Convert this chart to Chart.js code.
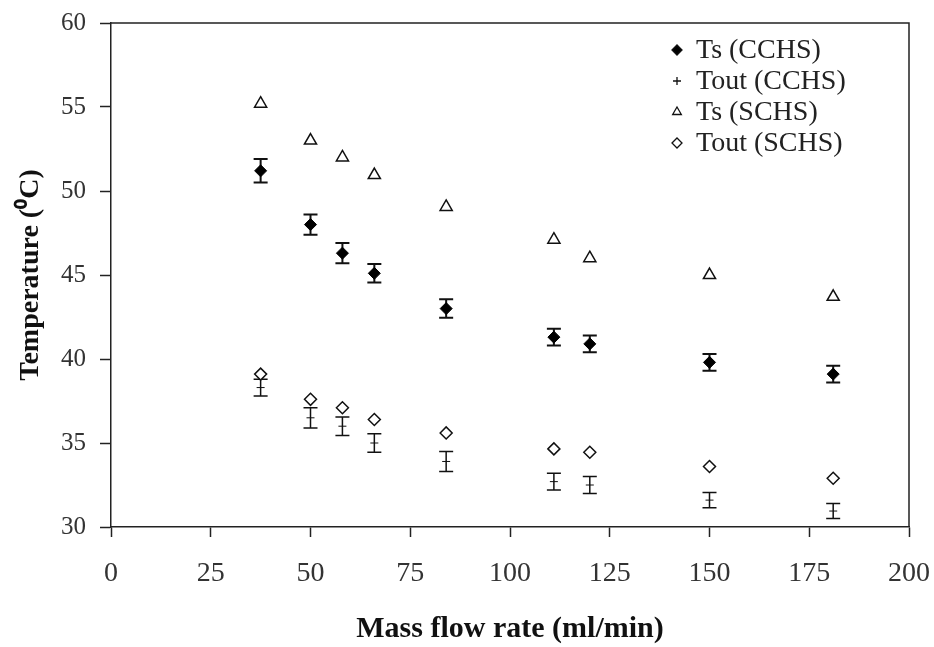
<!DOCTYPE html>
<html>
<head>
<meta charset="utf-8">
<script src="https://cdn.jsdelivr.net/npm/chart.js@4.4.0/dist/chart.umd.min.js"></script>
<style>
  body { margin: 0; background: #fff; }
  #wrap { width: 934px; height: 647px; }
</style>
</head>
<body>
<div id="wrap"><canvas id="grafico" width="934" height="647"></canvas></div>
<script>
// dados
const vazao = [37.5, 50, 58, 66, 84, 111, 120, 150, 181];
const tsCchs = [51.2, 48.0, 46.3, 45.1, 43.0, 41.3, 40.9, 39.8, 39.1];
const tsCchsErro = [0.7, 0.6, 0.6, 0.55, 0.55, 0.5, 0.5, 0.5, 0.5];
const toutCchs = [38.3, 36.5, 36.0, 35.0, 33.9, 32.7, 32.5, 31.6, 30.95];
const toutCchsErro = [0.5, 0.6, 0.55, 0.55, 0.6, 0.5, 0.5, 0.45, 0.45];
const tsSchs = [55.2, 53.0, 52.0, 50.95, 49.05, 47.1, 46.0, 45.0, 43.7];
const toutSchs = [39.1, 37.6, 37.1, 36.4, 35.6, 34.65, 34.45, 33.6, 32.9];
const rotulos = ['Ts (CCHS)', 'Tout (CCHS)', 'Ts (SCHS)', 'Tout (SCHS)'];

const FONTE = "'Liberation Serif', 'Times New Roman', serif";

function pontos(valores) {
    return vazao.map((x, i) => ({ x: x, y: valores[i] }));
}

// barras de erro desenhadas pelas escalas do próprio Chart.js
const barrasErro = {
    id: 'barrasErro',
    beforeDatasetsDraw(chart) {
        const ctx = chart.ctx;
        const xs = chart.scales.x, ys = chart.scales.y;
        chart.data.datasets.forEach(ds => {
            if (!ds.erros) return;
            ctx.save();
            ctx.strokeStyle = '#111';
            ctx.lineWidth = ds.larguraErro;
            ds.data.forEach((p, i) => {
                const px = xs.getPixelForValue(p.x);
                const yTop = ys.getPixelForValue(p.y + ds.erros[i]);
                const yBot = ys.getPixelForValue(p.y - ds.erros[i]);
                ctx.beginPath();
                ctx.moveTo(px, yTop); ctx.lineTo(px, yBot);
                ctx.moveTo(px - 7, yTop); ctx.lineTo(px + 7, yTop);
                ctx.moveTo(px - 7, yBot); ctx.lineTo(px + 7, yBot);
                ctx.stroke();
            });
            ctx.restore();
        });
    }
};

// moldura e legenda dentro da área do gráfico
const moldura = {
    id: 'moldura',
    afterDraw(chart) {
        const ctx = chart.ctx;
        const a = chart.chartArea;
        ctx.save();
        ctx.strokeStyle = '#222';
        ctx.lineWidth = 1.5;
        ctx.beginPath();
        ctx.moveTo(a.left, a.top); ctx.lineTo(a.right, a.top); ctx.lineTo(a.right, a.bottom);
        ctx.stroke();

        ctx.font = '28px ' + FONTE;
        ctx.textBaseline = 'middle';
        ctx.textAlign = 'left';
        chart.data.datasets.forEach((ds, i) => {
            const y = 50 + i * 31;
            ctx.fillStyle = ds.pointBackgroundColor;
            ctx.strokeStyle = '#111';
            ctx.lineWidth = 1.3;
            Chart.helpers.drawPoint(ctx, {
                pointStyle: ds.legendaEstilo || ds.pointStyle,
                radius: ds.legendaRaio,
                rotation: 0,
                borderWidth: 1.3
            }, 677, y);
            ctx.fillStyle = '#222';
            ctx.fillText(ds.label, 696, y + 1);
        });
        ctx.restore();
    }
};

document.addEventListener('DOMContentLoaded', () => {
    const ctx = document.getElementById('grafico').getContext('2d');
    new Chart(ctx, {
        type: 'scatter',
        data: {
            datasets: [
                {
                    label: rotulos[0], data: pontos(tsCchs), erros: tsCchsErro, larguraErro: 2,
                    pointStyle: 'rectRot', pointRadius: 6, legendaRaio: 5,
                    pointBackgroundColor: '#000', pointBorderColor: '#000', pointBorderWidth: 1
                },
                {
                    label: rotulos[1], data: pontos(toutCchs), erros: toutCchsErro, larguraErro: 1.5,
                    pointStyle: 'line', pointRadius: 4, legendaRaio: 4, legendaEstilo: 'cross',
                    pointBackgroundColor: '#000', pointBorderColor: '#111', pointBorderWidth: 1
                },
                {
                    label: rotulos[2], data: pontos(tsSchs),
                    pointStyle: 'triangle', pointRadius: 7, legendaRaio: 5,
                    pointBackgroundColor: '#fff', pointBorderColor: '#111', pointBorderWidth: 1.5
                },
                {
                    label: rotulos[3], data: pontos(toutSchs),
                    pointStyle: 'rectRot', pointRadius: 6, legendaRaio: 5,
                    pointBackgroundColor: '#fff', pointBorderColor: '#111', pointBorderWidth: 1.5
                }
            ]
        },
        options: {
            responsive: false,
            animation: false,
            layout: { padding: { top: 23, right: 25, bottom: 0, left: 0 } },
            plugins: { legend: { display: false }, tooltip: { enabled: false } },
            scales: {
                x: {
                    type: 'linear', min: 0, max: 200,
                    afterFit: s => { s.height = 120; s.paddingLeft = 0; s.paddingRight = 0; },
                    ticks: { stepSize: 25, padding: 20, color: '#333', font: { family: FONTE, size: 28 } },
                    grid: { drawOnChartArea: false, drawTicks: true, tickLength: 10, tickColor: '#222', tickWidth: 1.5 },
                    border: { color: '#222', width: 1.5 },
                    title: {
                        display: true, text: 'Mass flow rate (ml/min)', color: '#111',
                        font: { family: FONTE, size: 30, weight: 'bold' }, padding: { top: 0, bottom: 0 }
                    }
                },
                y: {
                    type: 'linear', min: 30, max: 60,
                    afterFit: s => { s.width = 111; s.paddingTop = 0; s.paddingBottom = 0; },
                    ticks: { stepSize: 5, padding: 14, color: '#333', font: { family: FONTE, size: 25 } },
                    grid: { drawOnChartArea: false, drawTicks: true, tickLength: 11, tickColor: '#222', tickWidth: 1.5 },
                    border: { color: '#222', width: 1.5 },
                    title: {
                        display: true, text: 'Temperature (\u2070C)', color: '#111',
                        font: { family: FONTE, size: 28, weight: 'bold' }, padding: { top: 14, bottom: 0 }
                    }
                }
            }
        },
        plugins: [barrasErro, moldura]
    });
});
</script>
</body>
</html>
